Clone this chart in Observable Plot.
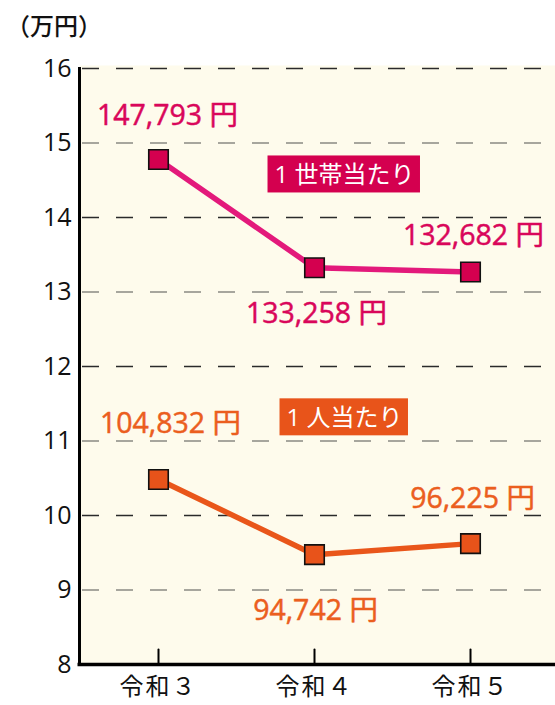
<!DOCTYPE html>
<html>
<head>
<meta charset="utf-8">
<script src="https://cdn.jsdelivr.net/npm/d3@7"></script>
<script src="https://cdn.jsdelivr.net/npm/@observablehq/plot@0.6"></script>
<style>
  body { margin: 0; background: #ffffff; }
  #wrap { position: relative; width: 555px; height: 705px; }
  #unit { position: absolute; left: 6px; top: 7px; font-family: "Noto Sans CJK JP", sans-serif; font-size: 24px; font-weight: 500; color: #111; letter-spacing: 0px; }
  svg g[aria-label="y-axis tick label"] text { font-size: 25px; }
  svg g[aria-label="x-axis tick label"] text { font-size: 24px; letter-spacing: 2px; }
</style>
</head>
<body>
<div id="wrap"><div id="unit">（万円）</div></div>
<script>
const years = ["令和３", "令和４", "令和５"];
const householdYen = [147793, 133258, 132682];
const personYen = [104832, 94742, 96225];
const yTicks = [8, 9, 10, 11, 12, 13, 14, 15, 16];
const seriesNames = ["1 世帯当たり", "1 人当たり"];
const seriesBoxY = [14.56, 11.3]; // label-box anchor (万円)

const colors = {
  "1 世帯当たり": {line: "#e3197b", fill: "#d4004f", text: "#d9065a", box: "#d4004f"},
  "1 人当たり": {line: "#e9561a", fill: "#e8531a", text: "#eb5e1e", box: "#e8541a"}
};

const rows = [];
years.forEach((y, i) => {
  rows.push({year: y, series: seriesNames[0], yen: householdYen[i], value: householdYen[i] / 10000, i});
  rows.push({year: y, series: seriesNames[1], yen: personYen[i], value: personYen[i] / 10000, i});
});
const fmt = d3.format(",");
// label offsets (px) per series / index
const labelDy = {"1 世帯当たり": [-44, 46, -36], "1 人当たり": [-56, 56, -45]};
const labelDx = {"1 世帯当たり": [9, 2, 3], "1 人当たり": [12, 1, 2]};

const tickShape = {draw(ctx, l) { ctx.moveTo(0, 0); ctx.lineTo(0, -l); }};
const font = '"Open Sans", "Noto Sans CJK JP", sans-serif';

const valueMarks = [];
seriesNames.forEach(s => {
  rows.filter(r => r.series === s).forEach(d => {
    valueMarks.push(Plot.text([d], {
      x: "year", y: "value", text: r => fmt(r.yen) + " 円",
      dx: labelDx[s][d.i], dy: labelDy[s][d.i],
      fill: colors[s].text, stroke: colors[s].text, strokeWidth: 0.5,
      fontSize: 28.5, fontFamily: font, letterSpacing: 3
    }));
  });
});

const chart = Plot.plot({
  width: 555, height: 705,
  marginTop: 68, marginBottom: 41, marginLeft: 79, marginRight: 7,
  style: {fontFamily: font, background: "transparent", overflow: "visible"},
  x: {type: "point", domain: years, padding: 0.5, label: null},
  y: {domain: [8, 16], label: null},
  marks: [
    Plot.frame({fill: "#fefbec", stroke: null, insetTop: -3, insetRight: -7}),
    Plot.ruleY(yTicks.filter(t => t > 8), {
      y: d => d,
      stroke: d => d % 2 === 0 ? "#2a2a2a" : "#8a8a82",
      strokeWidth: 1.6, strokeDasharray: "17,17", strokeDashoffset: 31, insetRight: -7
    }),
    Plot.axisY(yTicks, {tickSize: 0, tickPadding: 8, fontSize: 25, fill: "#111", fontFamily: font, tickFormat: "d"}),
    Plot.axisX({tickSize: 0, tickPadding: 13, fontSize: 24, fill: "#111", fontFamily: font}),
    ...seriesNames.flatMap((s, k) => {
      const data = rows.filter(r => r.series === s);
      const c = colors[s];
      return [
        Plot.line(data, {x: "year", y: "value", stroke: c.line, strokeWidth: 5.5}),
        Plot.dot(data, {x: "year", y: "value", symbol: "square", r: 11, fill: c.fill, stroke: "#111", strokeWidth: 1.6}),
        Plot.text([s], {
          x: () => years[1], y: () => seriesBoxY[k], text: d => d, dx: 30,
          fill: "white", fontSize: 24, fontFamily: font, letterSpacing: 1.5
        })
      ];
    }),
    ...valueMarks,
    Plot.ruleY([8], {strokeWidth: 3.5, stroke: "#000", insetRight: -7, insetLeft: -1.5}),
    Plot.frame({anchor: "left", stroke: "#000", strokeWidth: 3}),
    Plot.vector(years, {x: d => d, frameAnchor: "bottom", length: 15, anchor: "start", shape: tickShape, stroke: "#000", strokeWidth: 2})
  ]
});
document.getElementById("wrap").appendChild(chart);

// draw boxes behind series labels
const svg = chart.tagName.toLowerCase() === "svg" ? chart : chart.querySelector("svg");
svg.querySelectorAll("text").forEach(t => {
  const name = t.textContent;
  if (colors[name]) {
    const b = t.getBBox();
    const rect = document.createElementNS("http://www.w3.org/2000/svg", "rect");
    const padX = 7;
    rect.setAttribute("x", b.x - padX);
    rect.setAttribute("y", b.y + b.height / 2 - 18.5);
    rect.setAttribute("width", b.width + padX * 2 - 1.5);
    rect.setAttribute("height", 37);
    rect.setAttribute("fill", colors[name].box);
    const tr = t.getAttribute("transform");
    if (tr) rect.setAttribute("transform", tr);
    t.parentNode.insertBefore(rect, t);
  }
});
</script>
</body>
</html>
